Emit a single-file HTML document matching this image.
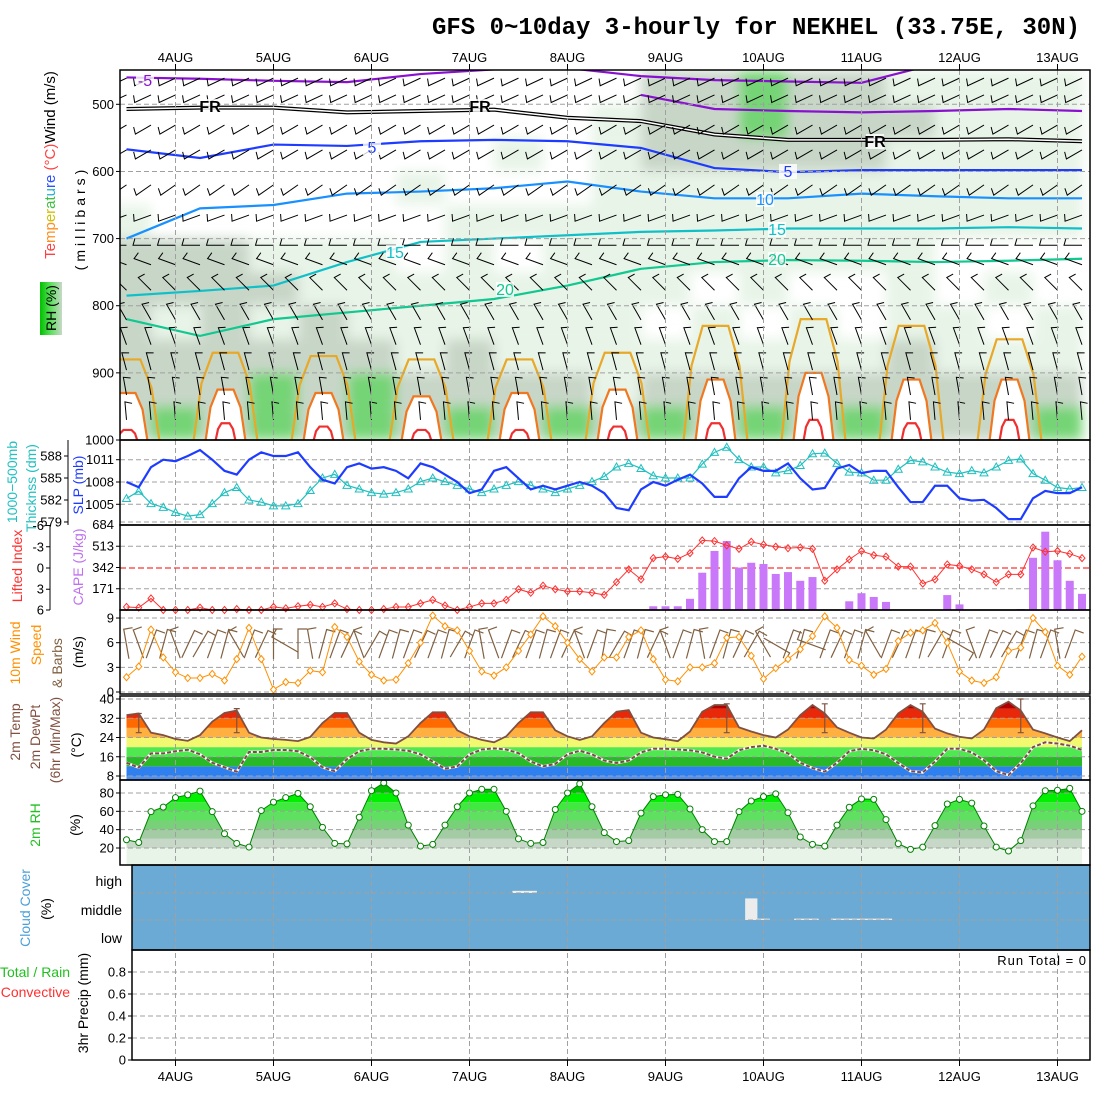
<!DOCTYPE html>
<html><head><meta charset="utf-8">
<style>
html,body{margin:0;padding:0;background:#fff;}
svg{display:block;font-family:"Liberation Sans",sans-serif;}
.tk{font-size:13px;fill:#000;}
.lab{font-size:14px;}
</style></head>
<body>
<svg id="chart" width="1100" height="1100" viewBox="0 0 1100 1100" xmlns="http://www.w3.org/2000/svg">
<defs>
<clipPath id="clipP1"><rect x="120" y="70" width="970" height="370"/></clipPath>
<clipPath id="clipT"><polygon id="tpoly" points=""/></clipPath>
<clipPath id="clipRH"><polygon id="rhpoly" points=""/></clipPath>
<linearGradient id="rhgrad" x1="0" y1="0" x2="1" y2="0"><stop offset="0" stop-color="#00c000"/><stop offset="0.5" stop-color="#60e060"/><stop offset="1" stop-color="#c8d8c8"/></linearGradient>
<filter id="soft"><feGaussianBlur stdDeviation="6"/></filter>
</defs>
<text x="432" y="34" textLength="648" style="font-family:'Liberation Mono',monospace;font-weight:bold;font-size:24px">GFS 0~10day 3-hourly for NEKHEL (33.75E, 30N)</text>
<g id="g1"></g>
<g id="gmain"></g>
<g id="glabels">
 <text style="font-size:15px" transform="rotate(-90 50 165)" x="50" y="170" text-anchor="middle"><tspan fill="#ff4040">Te</tspan><tspan fill="#ff9020">mp</tspan><tspan fill="#d0c000">er</tspan><tspan fill="#40c040">at</tspan><tspan fill="#20b0d0">u</tspan><tspan fill="#3050ff">re</tspan><tspan fill="#ff4040"> (°C)</tspan><tspan fill="#000">Wind (m/s)</tspan></text>
 <rect x="40" y="282" width="22" height="53" fill="url(#rhgrad)"/>
 <text class="lab" transform="rotate(-90 51 308)" x="51" y="313" text-anchor="middle">RH (%)</text>
 <text class="lab" transform="rotate(-90 80 218)" x="80" y="223" text-anchor="middle" letter-spacing="4">(millibars)</text>
 <text class="lab" fill="#20c0c0" transform="rotate(-90 12 482)" x="12" y="487" text-anchor="middle">1000−500mb</text>
 <text class="lab" fill="#20c0c0" transform="rotate(-90 31 488)" x="31" y="493" text-anchor="middle">Thicknss (dm)</text>
 <text class="lab" fill="#1e3cff" transform="rotate(-90 78 485)" x="78" y="490" text-anchor="middle">SLP (mb)</text>
 <text class="lab" fill="#ff3030" transform="rotate(-90 17 566)" x="17" y="571" text-anchor="middle">Lifted Index</text>
 <text class="lab" fill="#c070f0" transform="rotate(-90 78 567)" x="78" y="572" text-anchor="middle">CAPE (J/kg)</text>
 <text class="lab" fill="#ff9000" transform="rotate(-90 15 653)" x="15" y="658" text-anchor="middle">10m Wind</text>
 <text class="lab" fill="#ff9000" transform="rotate(-90 36 645)" x="36" y="650" text-anchor="middle">Speed</text>
 <text class="lab" fill="#806040" transform="rotate(-90 57 663)" x="57" y="668" text-anchor="middle">&amp; Barbs</text>
 <text class="lab" transform="rotate(-90 78 652)" x="78" y="657" text-anchor="middle">(m/s)</text>
 <text class="lab" fill="#805040" transform="rotate(-90 15 732)" x="15" y="737" text-anchor="middle">2m Temp</text>
 <text class="lab" fill="#805040" transform="rotate(-90 35 737)" x="35" y="742" text-anchor="middle">2m DewPt</text>
 <text class="lab" fill="#805040" transform="rotate(-90 55 740)" x="55" y="745" text-anchor="middle">(6hr Min/Max)</text>
 <text class="lab" transform="rotate(-90 76 745)" x="76" y="750" text-anchor="middle">(°C)</text>
 <text class="lab" fill="#20c020" transform="rotate(-90 35 825)" x="35" y="830" text-anchor="middle">2m RH</text>
 <text class="lab" transform="rotate(-90 75 825)" x="75" y="830" text-anchor="middle">(%)</text>
 <text class="lab" fill="#4aa0d8" transform="rotate(-90 25 908)" x="25" y="913" text-anchor="middle">Cloud Cover</text>
 <text class="lab" transform="rotate(-90 46 909)" x="46" y="914" text-anchor="middle">(%)</text>
 <text class="lab" fill="#20c020" x="70" y="977" text-anchor="end">Total / Rain</text>
 <text class="lab" fill="#ff3030" x="70" y="997" text-anchor="end">Convective</text>
 <text class="lab" transform="rotate(-90 83 1003)" x="83" y="1008" text-anchor="middle">3hr Precip (mm)</text>
</g>
<text x="1087" y="965" text-anchor="end" style="font-size:13px" letter-spacing="1">Run Total = 0</text>
</svg>
<script>
// ---------- data ----------
const dayLabels=["4AUG","5AUG","6AUG","7AUG","8AUG","9AUG","10AUG","11AUG","12AUG","13AUG"];
const presTicks=[500,600,700,800,900,1000];
const slpTicks=[1005,1008,1011];
const thkTicks=[579,582,585,588];
const liTicks=[-6,-3,0,3,6];
const capeTicks=[0,171,342,513,684];
const wsTicks=[0,3,6,9];
const tTicks=[8,16,24,32,40];
const rhTicks=[20,40,60,80];
const prTicks=[0,0.2,0.4,0.6,0.8];
const slp=[1008,1007.3,1010,1011,1010.8,1011.5,1012.3,1011,1009.5,1009,1011,
1012,1011.5,1011.5,1012,1010,1008.3,1007.8,1010,1010.5,1009.8,
1010,1009.5,1008.5,1010.5,1010,1009,1008,1006.5,1007,1009.5,
1010,1008.5,1007,1007.5,1007,1007.5,1008,1007.5,
1006.5,1004.5,1004.2,1007,1008,1007.5,1008.3,1009,1007.8,1006,
1006,1008.5,1010,1009.5,1009.5,1010.5,1008.5,1007,1007.2,1009.8,
1010.3,1009.2,1009.5,1009.5,1007.3,1005.3,1005.3,1007.5,1007.5,1005.8,
1005.5,1005.6,1004.5,1003,1003,1005.8,1006.8,1006.5,1006.5,1007.3];
const thick=[582.2,583.2,581.5,581,580.3,579.8,580,581.5,583,583.7,582,581.7,581.2,581.2,581.5,583.3,585,585.5,584,583.5,583,
582.8,583,583.5,584.5,585,584.5,584,583.5,583,583.5,584,584.5,584,583.5,583,583.5,584,584.5,
585.2,586.5,587,586.3,585.3,585,585,585,586.9,588.5,
589.2,587.5,586.5,586.5,585.7,586,586.7,588.3,588.4,587,
585.8,585.7,584.7,584.7,586.2,587.4,587.2,586.5,585.8,585.6,
586,585.7,586.5,587.4,587.6,585.6,584.7,583.7,583.5,583.7];
const liftedIndex=[5.5,5.6,4.3,6,6,6,5.6,6,6,5.8,6,6,5.5,5.7,5.4,5.2,5.5,5,5.8,6,6,5.8,5.5,5.5,5,4.5,5.3,6,5.5,5,5,4.5,3,3.5,2.5,3,3.3,3.3,3.5,
3.8,2,0.2,1.6,-1.4,-1.6,-1.3,-2.1,-3.9,-3.8,
-3.2,-2.7,-3.7,-3.3,-3,-2.8,-2.9,-2.7,1.8,0.2,
-1.2,-2.4,-1.8,-1.6,-0.2,-0.2,2.2,1.6,-0.5,-0.3,
0.2,0.9,2,0.9,0.9,-2.9,-2.3,-2.4,-2,-1.4];
const cape=[0,0,0,0,0,0,0,0,0,0,0,0,0,0,0,0,0,0,0,0,0,0,0,0,0,0,0,0,0,0,0,0,0,0,0,0,0,0,0,0,0,0,0,
30,30,30,90,300,475,555,341,380,370,290,305,235,265,0,0,70,135,105,65,0,0,0,0,120,45,0,0,0,0,8,420,630,400,235,130];
const windSpeed=[1.8,3.1,7.6,4.2,2.4,1.7,1.7,2.2,1.4,4,7.8,4,0.3,1.2,1.1,2.6,2.4,7.9,6.7,3.7,2.1,1.4,
1.5,3.5,6,9.3,8,7.5,5,2.5,2,3,5,7,9.2,8,6,4,2.5,
4.2,4.2,6.7,7.5,4,1.5,1.3,3,3,3.5,6.6,6.7,4.4,1.6,2.9,4,5.2,6.8,9.2,7.8,3.9,3.2,2.1,2.8,6.2,7.2,7.5,8.4,6,2.5,1.4,1.1,1.8,5,5.4,9,7.3,3.2,2.1,4.3];
const windDir=[350,340,20,15,340,25,30,20,15,330,20,25,0,300,0,350,15,20,25,340,30,20,
15,20,25,20,15,30,20,350,340,20,25,20,15,20,25,340,20,
10,30,20,15,25,340,20,15,350,20,15,25,30,330,120,20,15,290,20,25,
20,15,330,20,25,20,15,30,20,120,340,20,25,30,20,15,20,350,20];
const temp2m=[33.3,34,26,25,23.4,22.6,25,30.6,34.2,35.2,26,
24,23.4,23,22.5,24.2,30,34.2,34.2,26,23,
22,21.5,24.5,30,34.5,34.5,27,24.5,23,22,24.5,30,34.5,34.5,27,24.5,23,24.5,
30,34.7,35.4,26,24,23.3,22.5,26.5,34.7,37.5,37.5,28.2,26.5,25,24,27.3,33.3,37.5,34,28.2,
26,24,23.6,27.3,34,37.5,34.7,27.7,25.7,24.3,23.6,27.3,36.2,38.9,35.2,27.3,25.7,24,22.5,27];
const dew2m=[13.5,11.5,17.4,17.4,18.3,18.9,17,13.5,11.6,9.8,18,18,18.8,18.8,18.3,15.8,11.6,10,15,18.3,19.3,
19.3,19,18.5,17,14,11,12,17,19,19.5,19,17.5,14,12,13,17,18.5,17,
14.4,13.4,14.4,17.8,19.3,19.3,19,18.7,17.8,16,15.2,18.7,20,20.6,19.3,17.4,13.5,11.3,9.8,13.5,
18.3,19.3,18.7,17,13.4,10,9.5,14,19.3,19.3,17.8,14.5,10,8.4,13.4,20,22,21.5,20.6,18.8];
const rh2m=[29,26,59.6,64.6,75,78,82,59.6,35.6,25,21,60.8,70,75,79.6,65,42.5,25,24.5,53.5,82.5,
91,80,45,22,24,45,65,80,84,84,60,30,25,26,62,80,90,65,
36.7,27,28,58,76,78,78.5,62.5,40,27,27,59.6,71.3,76,79,58.5,32,24,22,45,
64.4,73.5,73,51,24.7,18.5,21,44.4,68,73,69,44,21,16.7,28,66,82.5,83,85,60];
const tMax6=[null,34,null,null,null,null,null,null,null,36,null,null,null,null,null,null,null,null,36,null,null,null,null,null,null,null,35.5,null,null,null,null,null,null,null,35.5,null,null,null,null,null,null,null,37,null,null,null,null,null,null,38,null,null,null,null,null,null,null,38,null,null,null,null,null,null,null,38,null,null,null,null,null,null,null,40,null,null,null,null,null];
const tMin6=[null,26,null,null,22,null,null,null,null,26,null,null,22,null,null,null,null,26,null,null,22,null,null,null,null,26,null,null,22,null,null,null,null,26,null,null,22,null,null,null,null,26,null,null,22,null,null,null,null,26,null,null,23,null,null,null,null,26,null,null,22,null,null,null,null,26,null,null,23,null,null,null,null,26,null,null,22,null,null];
const cloudHigh=[[32,8],[33,8]];
const cloudMid=[[51,80],[52,5],[55,5],[56,5],[58,5],[59,5],[60,5],[61,5],[62,5]];
const isoIdx=[0,6,12,18,24,30,36,42,48,54,60,66,72,78];
const isoM5a=[460,462,465,467,455,448,446,458,464,466,468,440,440,440];
const isoM5b=[null,null,null,null,null,null,null,486,507,510,512,510,507,510];
const isoFR=[507,505,505,512,510,508,520,525,545,553,553,553,552,555];
const iso5=[567,580,560,562,555,553,555,565,595,601,598,598,598,598];
const iso10=[700,655,650,633,630,625,615,630,640,640,633,637,640,640];
const iso15=[785,778,770,735,705,700,695,690,688,685,685,685,683,685];
const iso20=[820,845,820,810,800,790,770,745,735,732,733,735,733,730];
const spike25=[880,870,875,880,880,870,830,820,830,850];
const spike30=[930,925,930,935,930,925,910,900,910,910];
const spike35=[985,975,980,985,985,980,975,970,975,970];
const rhLevels=[475,525,575,625,675,725,775,825,875,925,975];
const rhGrid=[
[0,0,0,0,0,0,0,0,0,0,0,2,2,3,2,2,1,1,1,1],
[0,0,0,0,0,0,0,0,0,0,1,2,2,3,2,2,2,1,1,1],
[0,0,0,0,0,0,0,0,1,0,1,2,2,2,2,2,1,1,1,1],
[0,0,0,0,0,0,1,0,0,0,1,1,1,1,1,1,1,1,1,1],
[1,0,0,0,0,0,0,1,1,1,1,1,1,1,1,1,1,1,1,1],
[2,2,2,1,1,1,0,1,0,1,1,1,1,1,1,1,1,0,0,0],
[2,2,2,2,1,1,1,1,1,1,1,1,0,1,0,0,1,0,1,0],
[2,1,2,1,2,1,1,1,1,1,1,0,1,0,1,0,1,1,0,1],
[2,2,2,2,2,2,1,2,1,1,1,1,1,1,1,1,2,1,1,1],
[2,2,2,3,2,3,2,2,2,2,1,2,2,2,2,2,2,2,2,2],
[2,3,2,3,2,3,2,3,2,3,2,3,2,3,2,3,2,2,2,3]];
const barbLevels=[461,486,531,568,620,665,710,739,777,821,858,896,933,970];
const barbDirs=[245,245,240,240,235,250,270,290,315,330,340,345,350,355];

// ---------- scales ----------
const X=i=>126.5+12.25*i;
const DX=d=>175.5+98*d;
const PY=p=>440-(1000-p)*0.6714;
const SY=v=>482-(v-1008)*7.43;
const HY=v=>478-(v-585)*7.33;
const LY=v=>Math.max(525,Math.min(610,568+v*7.08));
const CY=v=>610-v*0.1243;
const WY=v=>692-v*8.22;
const TY=v=>776-(v-8)*2.406;
const RY=v=>848-(v-20)*0.917;
const QY=v=>1060-v*110;

const NS="http://www.w3.org/2000/svg";
function mk(tag,attrs,parent){const e=document.createElementNS(NS,tag);for(const k in attrs)e.setAttribute(k,attrs[k]);parent.appendChild(e);return e;}
const g1=document.getElementById('g1');
const gm=document.getElementById('gmain');
const P1=mk('g',{'clip-path':'url(#clipP1)'},g1);



const rhCols=['none','#e8f4e8','#c8d6c8','#74d474'];
const rhG=mk('g',{filter:'url(#soft)'},P1);


rhGrid.forEach((row,r)=>{row.forEach((c,k)=>{if(!c)return;
 const x0=X(k*4)-24.5,y0=PY(rhLevels[r]-25),y1=PY(rhLevels[r]+25);
 const e=mk('rect',{x:x0,y:y0,width:49,height:y1-y0,fill:rhCols[c]},rhG);
 
 });});

function hgrid(y,x0,x1,par){const e=mk('line',{x1:x0,x2:x1,y1:y,y2:y,stroke:'#a0a0a0','stroke-dasharray':'5,3','stroke-width':1},par);}
presTicks.forEach(p=>{if(p<1000)hgrid(PY(p),120,1090,g1);});

function spike(arr,hw,col,fill,name){arr.forEach((p,k)=>{const x=127.5+98*k,y=PY(p);
 const pts=[[x-hw,441],[x-hw*0.75,y+(440-y)*0.35],[x-hw*0.4,y],[x+hw*0.4,y],[x+hw*0.75,y+(440-y)*0.35],[x+hw,441]].map(a=>a.join(',')).join(' ');
 const e=mk('polyline',{points:pts,fill:fill,stroke:col,'stroke-width':2.2},P1);
 
 });}
spike(spike25,32,'#e8a828','none','isotherm-25');
spike(spike30,20,'#f07820','#ffffff','isotherm-30');
spike(spike35,10,'#f03030','none','isotherm-35');

function iso(arr,col,name,dbl){let pts=[];arr.forEach((p,k)=>{if(p!==null)pts.push(X(isoIdx[k])+','+PY(p));});
 if(dbl){const b=mk('polyline',{points:pts.join(' '),fill:'none',stroke:'#000','stroke-width':4},P1);
  const w=mk('polyline',{points:pts.join(' '),fill:'none',stroke:'#fff','stroke-width':1.5},P1);return;}
 const e=mk('polyline',{points:pts.join(' '),fill:'none',stroke:col,'stroke-width':2.2},P1);
 
 }
iso(isoM5a,'#8a10d0','isotherm-minus5a');
iso(isoM5b,'#8a10d0','isotherm-minus5b');
iso(isoFR,'#000','freezing-level',true);
iso(iso5,'#1e3cff','isotherm-5');
iso(iso10,'#1890ff','isotherm-10');
iso(iso15,'#10c0c8','isotherm-15');
iso(iso20,'#10c890','isotherm-20');

const bg=mk('g',{stroke:'#000','stroke-width':1},P1);


barbLevels.forEach((p,r)=>{for(let i=0;i<=78;i+=2){const d=barbDirs[r]*Math.PI/180,vx=Math.sin(d),vy=-Math.cos(d);
 const x=X(i),y=PY(p),ex=x+vx*18,ey=y+vy*18;
 const e=mk('path',{d:`M${x},${y}L${ex},${ey}L${ex-vy*7+vx*-2},${ey+vx*7+vy*-2}`,fill:'none'},bg);
 
 }});

[[145,86,'-5','#8a10d0'],[210,112,'FR','#000'],[480,112,'FR','#000'],[875,147,'FR','#000'],[372,153,'5','#1e3cff'],[788,177,'5','#1e3cff'],[765,205,'10','#1890ff'],[395,258,'15','#10c0c8'],[777,235,'15','#10c0c8'],[505,295,'20','#10c890'],[777,265,'20','#10c890']].forEach(a=>{
 const bgc=mk('rect',{x:a[0]-9,y:a[1]-13,width:18,height:15,fill:'#fff',opacity:0.8},g1);
 
 
 const t=mk('text',{x:a[0],y:a[1],fill:a[3],'text-anchor':'middle','font-size':16,'font-weight':a[2]==='FR'?'bold':'normal'},g1);
 t.textContent=a[2];
 
 });

function vgrid(y0,y1,x0){dayLabels.forEach((l,d)=>{const x=DX(d);const e=mk('line',{x1:x,x2:x,y1:y0,y2:y1,stroke:'#a0a0a0','stroke-dasharray':'5,3'},gm);});}

const tpts=temp2m.map((v,i)=>X(i)+','+TY(v));
document.getElementById('tpoly').setAttribute('points',X(0)+',780 '+tpts.join(' ')+' '+X(78)+',780');
const tb=[[-10,8,'#5090f0'],[8,12,'#2e80f0'],[12,16,'#28b828'],[16,20,'#50e850'],[20,24,'#f2f870'],[24,28,'#ffb040'],[28,32,'#ff6a00'],[32,36,'#e82808'],[36,50,'#b00000']];
const tg=mk('g',{'clip-path':'url(#clipT)'},gm);


tb.forEach(b=>{const y0=Math.max(696,TY(b[1])),y1=Math.min(780,TY(b[0]));const e=mk('rect',{x:X(0),y:y0,width:X(78)-X(0),height:y1-y0,fill:b[2]},tg);});

const rpts=rh2m.map((v,i)=>X(i)+','+RY(v));
document.getElementById('rhpoly').setAttribute('points',X(0)+',865 '+rpts.join(' ')+' '+X(78)+',865');
const rb=[[0,20,'#e8f4e8'],[20,30,'#c8d8c8'],[30,40,'#a4cca4'],[40,50,'#78d078'],[50,60,'#60e060'],[60,70,'#40e840'],[70,80,'#00f000'],[80,90,'#00c000'],[90,110,'#00a000']];
const rg=mk('g',{'clip-path':'url(#clipRH)'},gm);


rb.forEach(b=>{const y0=Math.max(780,RY(b[1])),y1=Math.min(865,RY(b[0]));const e=mk('rect',{x:X(0),y:y0,width:X(78)-X(0),height:y1-y0,fill:b[2]},rg);});
const rlow=mk('rect',{x:X(0),y:848,width:X(78)-X(0),height:17,fill:'#e8f4e8'},gm);



const cr=mk('rect',{x:132,y:865,width:958,height:85,fill:'#6aaad4'},gm);


cloudHigh.forEach(c=>{const h=c[1]*0.27;const e=mk('rect',{x:X(c[0])-6.1,y:893-h,width:12.25,height:h,fill:'#f0f0f0'},gm);});
cloudMid.forEach(c=>{const h=c[1]*0.27;const e=mk('rect',{x:X(c[0])-6.1,y:920-h,width:12.25,height:h,fill:'#ececec'},gm);});

vgrid(440,865);vgrid(865,1060);vgrid(70,440);
slpTicks.forEach(v=>hgrid(SY(v),120,1090,gm));hgrid(522,120,1090,gm);
capeTicks.slice(1,4).forEach(v=>{if(v!==342)hgrid(CY(v),120,1090,gm);});
wsTicks.forEach(v=>hgrid(WY(v),120,1090,gm));
tTicks.forEach(v=>hgrid(TY(v),120,1090,gm));
rhTicks.forEach(v=>hgrid(RY(v),120,1090,gm));
[893,920].forEach(y=>hgrid(y,132,1090,gm));
prTicks.slice(1).forEach(v=>hgrid(QY(v),132,1090,gm));
const zl=mk('line',{x1:120,x2:1090,y1:LY(0),y2:LY(0),stroke:'#ff3030','stroke-dasharray':'6,3','stroke-width':1.3},gm);



function line(vals,fy,col,w,name){const e=mk('polyline',{points:vals.map((v,i)=>X(i)+','+fy(v)).join(' '),fill:'none',stroke:col,'stroke-width':w},gm);return e;}
line(thick,HY,'#20c0c0',1.2,'thickness-line');
thick.forEach((v,i)=>{const x=X(i),y=HY(v);const e=mk('polygon',{points:`${x},${y-4} ${x-4},${y+3} ${x+4},${y+3}`,fill:'none',stroke:'#20c0c0'},gm);});
line(slp,SY,'#1e3cff',2.2,'slp-line');

cape.forEach((v,i)=>{if(!v)return;const e=mk('rect',{x:X(i)-4,y:CY(v),width:8,height:610-CY(v),fill:'#c878f8'},gm);});
line(liftedIndex,LY,'#ff3030',1,'lifted-index-line');
liftedIndex.forEach((v,i)=>{const x=X(i),y=LY(v);const e=mk('polygon',{points:`${x},${y-3.5} ${x+3},${y} ${x},${y+3.5} ${x-3},${y}`,fill:'none',stroke:'#ff3030'},gm);});

windDir.forEach((dg,i)=>{const d=dg*Math.PI/180,vx=Math.sin(d),vy=-Math.cos(d);const x=X(i)-vx*14,y=645-vy*14;const ex=x+vx*30,ey=y+vy*30;
 const e=mk('path',{d:`M${x},${y}L${ex},${ey}L${ex-vy*9},${ey+vx*9}`,fill:'none',stroke:'#806040','stroke-width':1.2},gm);
 
 });
line(windSpeed,WY,'#ff9000',1,'wind-speed-line');
windSpeed.forEach((v,i)=>{const x=X(i),y=WY(v);const e=mk('polygon',{points:`${x},${y-3.5} ${x+3},${y} ${x},${y+3.5} ${x-3},${y}`,fill:'#fff',stroke:'#ff9000'},gm);});

line(temp2m,TY,'#805040',1.8,'temp-line');
const dw=line(dew2m,TY,'#ffffff',2.6,'dewpoint-halo');
const dd=line(dew2m,TY,'#804848',2,'dewpoint-line');dd.setAttribute('stroke-dasharray','4,2');
tMax6.forEach((v,i)=>{if(v===null||tMin6[i]===null)return;const x=X(i);const y0=TY(v),y1=TY(tMin6[i]);
 const e=mk('path',{d:`M${x-3},${y0}H${x+3}M${x},${y0}V${y1}M${x-3},${y1}H${x+3}`,stroke:'#805040','stroke-width':1.2,fill:'none'},gm);
 
 });

line(rh2m,RY,'#008000',1,'rh-line');
rh2m.forEach((v,i)=>{const e=mk('circle',{cx:X(i),cy:RY(v),r:3,fill:'#fff',stroke:'#008000'},gm);});

[[120,70,970,370],[120,440,970,85],[120,525,970,85],[120,610,970,84],[120,696,970,84],[120,780,970,85],[132,865,958,85],[132,950,958,110]].forEach(r=>{
 const e=mk('rect',{x:r[0],y:r[1],width:r[2],height:r[3],fill:'none',stroke:'#000','stroke-width':1.5},gm);
 
 });
const ta=mk('line',{x1:68,x2:68,y1:440,y2:525,stroke:'#000'},gm);


const la=mk('line',{x1:50,x2:50,y1:525,y2:610,stroke:'#000'},gm);



function tl(x,y,txt,name,anchor){const t=mk('text',{x:x,y:y+4.5,'text-anchor':anchor||'end',class:'tk'},gm);t.textContent=txt;
 const tk=mk('line',{x1:x+2,x2:x+6,y1:y,y2:y,stroke:'#000'},gm);}
presTicks.forEach(p=>tl(114,PY(p),String(p),'pressure-tick-label'));
slpTicks.forEach(v=>tl(114,SY(v),String(v),'slp-tick-label'));
const c684=mk('text',{x:114,y:529,'text-anchor':'end',class:'tk'},gm);
c684.textContent='684';


thkTicks.forEach(v=>tl(62,HY(v),String(v),'thickness-tick-label'));
liTicks.forEach(v=>tl(44,LY(v),String(v),'li-tick-label'));
capeTicks.slice(1,4).forEach(v=>tl(114,CY(v),String(v),'cape-tick-label'));
wsTicks.forEach(v=>tl(114,WY(v),String(v),'wind-tick-label'));
tTicks.forEach(v=>tl(114,TY(v),String(v),'temp-tick-label'));
rhTicks.forEach(v=>tl(114,RY(v),String(v),'rh-tick-label'));
[['high',881],['middle',910],['low',938]].forEach(a=>{const t=mk('text',{x:122,y:a[1]+5,'text-anchor':'end',style:'font-size:14px'},gm);t.textContent=a[0];});
prTicks.forEach(v=>tl(126,QY(v),String(v),'precip-tick-label'));
dayLabels.forEach((l,d)=>{
 const a=mk('text',{x:DX(d),y:62,'text-anchor':'middle',class:'tk'},gm);a.textContent=l;
 
 
 const b=mk('text',{x:DX(d),y:1081,'text-anchor':'middle',class:'tk'},gm);b.textContent=l;
 
 
 const t1=mk('line',{x1:DX(d),x2:DX(d),y1:64,y2:70,stroke:'#000'},gm);
 
 
 const t2=mk('line',{x1:DX(d),x2:DX(d),y1:1060,y2:1066,stroke:'#000'},gm);
 
 });
</script>
</body></html>
